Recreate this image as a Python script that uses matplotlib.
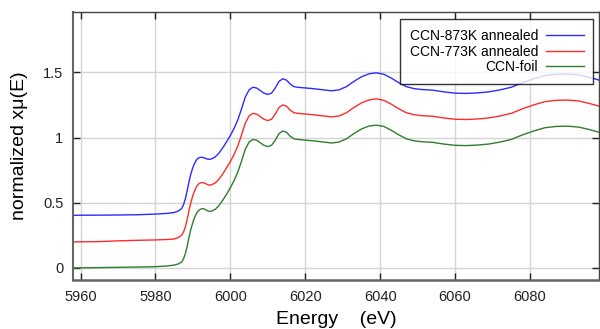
import matplotlib
matplotlib.use("Agg")
import matplotlib.pyplot as plt

energy = [5958, 5965, 5970, 5975, 5980, 5983, 5985, 5986, 5987, 5987.5, 5988, 5988.5,
          5989, 5989.5, 5990, 5990.5, 5991, 5991.5, 5992, 5992.5, 5993, 5993.5, 5994,
          5994.5, 5995, 5996, 5997, 5998, 5999, 6000, 6001, 6002, 6003, 6004, 6005,
          6006, 6007, 6008, 6009, 6010, 6011, 6012, 6013, 6014, 6015, 6016, 6017, 6018,
          6020, 6022, 6025, 6027, 6029, 6031, 6033, 6035, 6037, 6039, 6041, 6043, 6045,
          6047, 6049, 6051, 6054, 6057, 6060, 6063, 6066, 6069, 6072, 6075, 6078, 6081,
          6084, 6087, 6090, 6093, 6096, 6098.5]

foil = [0.000, 0.003, 0.005, 0.007, 0.010, 0.015, 0.022, 0.030, 0.045, 0.070, 0.110, 0.170,
        0.240, 0.300, 0.350, 0.390, 0.420, 0.440, 0.450, 0.455, 0.452, 0.445, 0.437,
        0.434, 0.436, 0.450, 0.480, 0.520, 0.565, 0.615, 0.670, 0.735, 0.820, 0.910, 0.965,
        0.985, 0.980, 0.960, 0.940, 0.930, 0.940, 0.980, 1.030, 1.050, 1.040, 1.010, 0.990, 0.985,
        0.980, 0.975, 0.965, 0.958, 0.965, 0.990, 1.030, 1.065, 1.088, 1.095, 1.085, 1.055, 1.020,
        0.990, 0.975, 0.968, 0.963, 0.950, 0.940, 0.938, 0.942, 0.950, 0.965, 0.985, 1.020, 1.050,
        1.075, 1.085, 1.087, 1.080, 1.060, 1.040]

ccn773 = [0.200, 0.202, 0.208, 0.212, 0.215, 0.218, 0.222, 0.232, 0.250, 0.275, 0.315, 0.375,
          0.445, 0.505, 0.555, 0.595, 0.625, 0.643, 0.652, 0.655, 0.652, 0.645, 0.638,
          0.635, 0.638, 0.652, 0.682, 0.722, 0.767, 0.815, 0.870, 0.935, 1.020, 1.110, 1.165,
          1.185, 1.180, 1.160, 1.140, 1.130, 1.140, 1.180, 1.230, 1.250, 1.240, 1.210, 1.190, 1.185,
          1.180, 1.175, 1.165, 1.158, 1.165, 1.190, 1.230, 1.265, 1.288, 1.296, 1.285, 1.255, 1.220,
          1.190, 1.175, 1.168, 1.163, 1.150, 1.140, 1.138, 1.142, 1.150, 1.165, 1.185, 1.220, 1.250,
          1.275, 1.285, 1.287, 1.280, 1.260, 1.240]

ccn873 = [0.404, 0.405, 0.406, 0.408, 0.413, 0.418, 0.425, 0.435, 0.455, 0.485, 0.530, 0.595,
          0.665, 0.725, 0.770, 0.805, 0.830, 0.843, 0.848, 0.848, 0.844, 0.838, 0.834,
          0.833, 0.836, 0.852, 0.882, 0.922, 0.967, 1.015, 1.070, 1.135, 1.220, 1.310, 1.365,
          1.385, 1.380, 1.360, 1.340, 1.330, 1.340, 1.380, 1.430, 1.450, 1.440, 1.410, 1.390, 1.385,
          1.380, 1.375, 1.365, 1.358, 1.365, 1.390, 1.430, 1.465, 1.488, 1.496, 1.485, 1.455, 1.420,
          1.390, 1.375, 1.368, 1.363, 1.350, 1.340, 1.338, 1.342, 1.350, 1.365, 1.385, 1.420, 1.450,
          1.475, 1.485, 1.487, 1.480, 1.460, 1.440]

labels = ["CCN-873K annealed", "CCN-773K annealed", "CCN-foil"]
xticks = [5960, 5980, 6000, 6020, 6040, 6060, 6080]
yticks = [0, 0.5, 1, 1.5]
ytick_labels = ["0", "0.5", "1", "1.5"]

plt.rcParams['font.family'] = ['Liberation Sans', 'DejaVu Sans']

fig = plt.figure(figsize=(6.0, 3.29), dpi=100)
ax = fig.add_axes([0.1217, 0.149, 0.877, 0.8145])

ax.plot(energy, ccn873, color='#2b2bff', lw=1.0, label=labels[0])
ax.plot(energy, ccn773, color='#ff2b2b', lw=1.0, label=labels[1])
ax.plot(energy, foil, color='#2e7d2e', lw=1.0, label=labels[2])

ax.set_xlim(5958, 6098.5)
ax.set_ylim(-0.092, 1.962)
ax.set_xticks(xticks)
ax.set_yticks(yticks)
ax.set_yticklabels(ytick_labels)
ax.grid(True, color='#d4d4d4', lw=1.0)
ax.set_axisbelow(True)
ax.tick_params(direction='in', top=True, right=True, length=5, width=1.0,
               labelsize=10.5, colors='#222222', pad=7)
for s in ax.spines.values():
    s.set_color('#444444')
    s.set_linewidth(1.0)
ax.spines['bottom'].set_linewidth(1.8)
ax.spines['bottom'].set_color('#666666')
ax.spines['left'].set_linewidth(1.5)
ax.spines['left'].set_color('#666666')

ax.set_xlabel("Energy    (eV)", fontsize=14, labelpad=5)
ax.set_ylabel("normalized xμ(E)", fontsize=14, labelpad=11)

leg = ax.legend(loc='upper right', bbox_to_anchor=(0.989, 0.973), markerfirst=False,
                fontsize=10, frameon=True, fancybox=False, edgecolor='black',
                handlelength=2.7, labelspacing=0.12, borderpad=0.7, handletextpad=0.6,
                borderaxespad=0)
leg.get_frame().set_linewidth(1.0)

fig.savefig('out.png', dpi=100)
